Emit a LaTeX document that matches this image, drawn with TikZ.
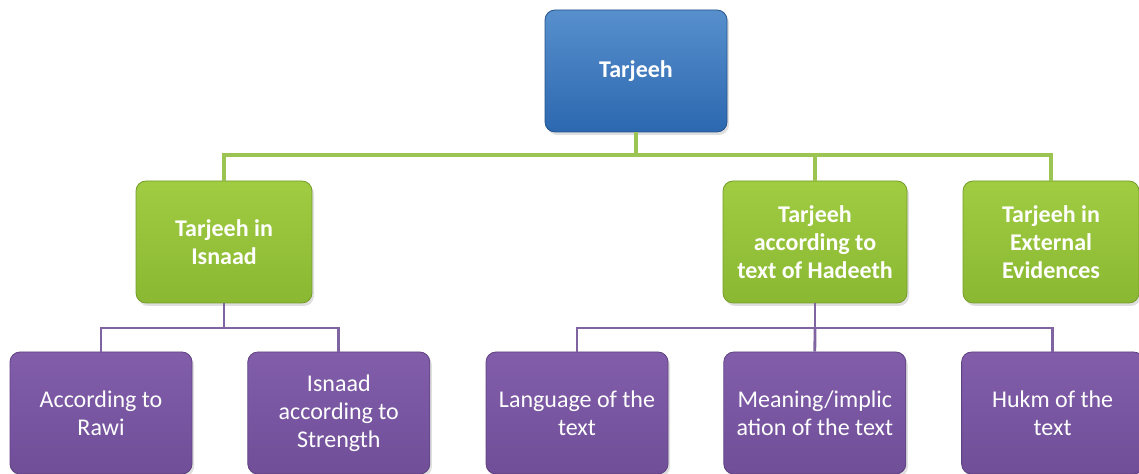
\documentclass[tikz,border=0pt]{standalone}
\usepackage{fontspec}
\setmainfont{Carlito}
\usetikzlibrary{positioning,shadows}

\definecolor{topblue}{RGB}{58,124,196}
\definecolor{topblueB}{RGB}{44,104,176}
\definecolor{midgreen}{RGB}{160,204,66}
\definecolor{midgreenB}{RGB}{138,184,50}
\definecolor{lowpurple}{RGB}{130,94,170}
\definecolor{lowpurpleB}{RGB}{112,78,152}
\definecolor{glink}{RGB}{155,196,82}
\definecolor{plink}{RGB}{128,100,162}

\begin{document}
\begin{tikzpicture}[
    x=0.5pt, y=-0.5pt,
    node distance=27.5pt,
    box/.style={rounded corners=5pt, minimum height=61pt, align=center,
        text=white, font=\fontsize{12}{14}\selectfont,
        drop shadow={opacity=0.25, shadow xshift=1pt, shadow yshift=-1.5pt}},
    rootbox/.style={box, top color=topblue!85!white, bottom color=topblueB,
        draw=topblueB!80!black, minimum width=91pt, font=\bfseries\fontsize{12}{14}\selectfont},
    midbox/.style={box, top color=midgreen, bottom color=midgreenB,
        draw=midgreenB!85!black, minimum width=88pt, font=\bfseries\fontsize{12}{14}\selectfont},
    leafbox/.style={box, top color=lowpurple, bottom color=lowpurpleB,
        draw=lowpurpleB!85!black, minimum width=91pt},
    gline/.style={glink, line width=1.6pt},
    pline/.style={plink, line width=1.4pt}
]
\useasboundingbox (0,0) rectangle (1139,474);

% top level
\node (root) [rootbox] at (636,71) {Tarjeeh};

% second level
\node (isnaad) [midbox] at (224,242) {Tarjeeh in\\Isnaad};
\node (hadeeth) [midbox, minimum width=92pt] at (815,242) {Tarjeeh\\according to\\text of Hadeeth};
\node (external) [midbox] at (1051,242) {Tarjeeh in\\External\\Evidences};

% third level
\node (rawi) [leafbox] at (101,413) {According to\\Rawi};
\node (strength) [leafbox, right=of rawi] {Isnaad\\according to\\Strength};
\node (language) [leafbox] at (577,413) {Language of the\\text};
\node (meaning) [leafbox, right=of language] {Meaning/implic\\ation of the text};
\node (hukm) [leafbox, right=of meaning] {Hukm of the\\text};

% connectors
\coordinate (gbus) at (636,155);
\draw [gline] (root.south) -- (gbus);
\draw [gline] (gbus) -| (isnaad.north);
\draw [gline] (gbus) -| (hadeeth.north);
\draw [gline] (gbus) -| (external.north);

\coordinate (pbusA) at (224,328);
\draw [pline] (isnaad.south) -- (pbusA);
\draw [pline] (pbusA) -| (rawi.north);
\draw [pline] (pbusA) -| (strength.north);

\coordinate (pbusB) at (815,328);
\draw [pline] (hadeeth.south) -- (pbusB);
\draw [pline] (pbusB) -| (language.north);
\draw [pline] (pbusB) -- (meaning.north);
\draw [pline] (pbusB) -| (hukm.north);

\end{tikzpicture}
\end{document}
